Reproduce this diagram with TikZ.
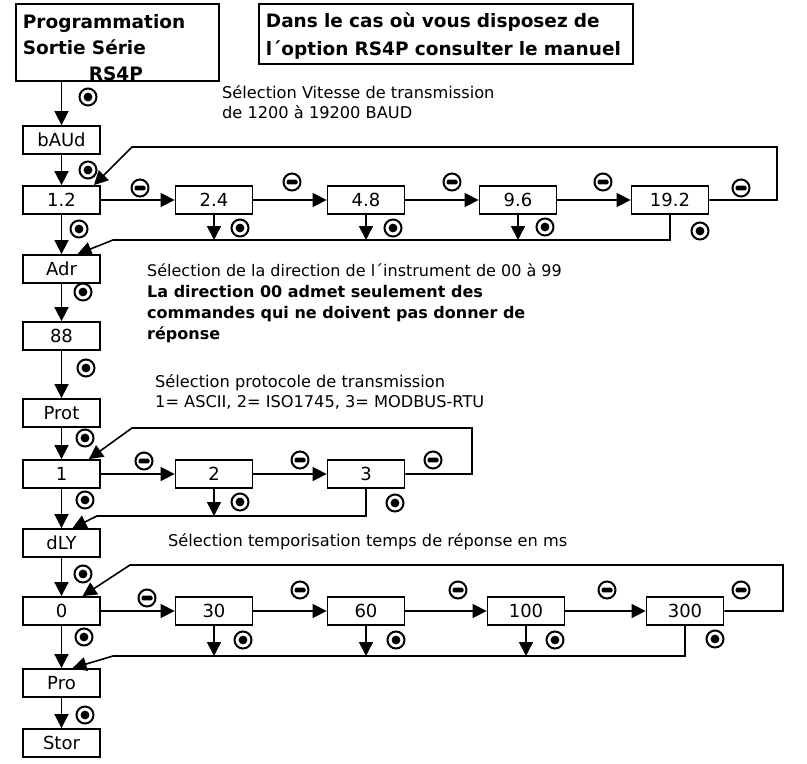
\documentclass[tikz,border=0pt]{standalone}
\usepackage{fontspec}
\setmainfont{DejaVu Sans}
\usetikzlibrary{arrows.meta}

\tikzset{
  box/.style={draw, line width=1.8pt, minimum width=77pt, minimum height=28pt, inner sep=0pt, font=\fontsize{18}{20}\selectfont},
  title/.style={draw, line width=1.8pt, align=left, anchor=north west, inner xsep=7pt, inner ysep=0pt, font=\bfseries\fontsize{18.5}{26}\selectfont},
  note/.style={align=left, inner sep=0pt, font=\fontsize{16.2}{20.5}\selectfont},
  arr/.style={line width=1.6pt, -{Triangle[length=14pt,width=14pt]}},
  okkey/.style={circle, draw, line width=2pt, minimum size=17pt, inner sep=0pt,
    path picture={\fill (path picture bounding box.center) circle (4.4pt);}},
  minuskey/.style={circle, draw, line width=2pt, minimum size=17pt, inner sep=0pt,
    path picture={\fill[rounded corners=1.4pt] ([shift={(-5.5pt,-2.4pt)}]path picture bounding box.center) rectangle ([shift={(5.5pt,2.4pt)}]path picture bounding box.center);}}
}

\begin{document}
\begin{tikzpicture}[x=1pt,y=-1pt]
\useasboundingbox (0,0) rectangle (807,764);

\node[title, minimum width=203pt, text width=189pt] (prog) at (15,3) {\rule{0pt}{25pt}Programmation\\Sortie Série\\\hspace*{66pt}\smash{RS4P}};
\node[title, minimum width=374pt, text width=360pt, font=\bfseries\fontsize{18.5}{28}\selectfont] (info) at (258,3) {\rule{0pt}{24pt}Dans le cas où vous disposez de\\l´option RS4P consulter le manuel\rule[-8pt]{0pt}{8pt}};

\node[note, anchor=west] (baudnote) at (222,102) {Sélection Vitesse de transmission\\de 1200 à 19200 BAUD};
\node[note, anchor=west, font=\fontsize{16}{21}\selectfont] (adrnote) at (147,303) {Sélection de la direction de l´instrument de 00 à 99\\\textbf{La direction 00 admet seulement des}\\\textbf{commandes qui ne doivent pas donner de}\\\textbf{réponse}};
\node[note, anchor=west] (protnote) at (155,392) {Sélection protocole de transmission\\1= ASCII, 2= ISO1745, 3= MODBUS-RTU};
\node[note, anchor=west] (dlynote) at (168,542) {Sélection temporisation temps de réponse en ms};

\node[box] (baud) at (61.5,140) {bAUd};
\node[box] (b12) at (61.5,200) {1.2};
\node[box] (b24) at (214,200) {2.4};
\node[box] (b48) at (366,200) {4.8};
\node[box] (b96) at (518,200) {9.6};
\node[box] (b192) at (670,200) {19.2};
\node[box] (adr) at (61.5,269) {Adr};
\node[box] (n88) at (61.5,336) {88};
\node[box] (prot) at (61.5,413) {Prot};
\node[box] (p1) at (61.5,474) {1};
\node[box] (p2) at (214,474) {2};
\node[box] (p3) at (366,474) {3};
\node[box] (dly) at (61.5,543) {dLY};
\node[box] (d0) at (61.5,611) {0};
\node[box] (d30) at (214,611) {30};
\node[box] (d60) at (366,611) {60};
\node[box] (d100) at (526,611) {100};
\node[box] (d300) at (685,611) {300};
\node[box] (pro) at (61.5,683) {Pro};
\node[box] (stor) at (61.5,743) {Stor};

\coordinate (baudtop) at (777,147);
\coordinate (baudbend) at (132,147);
\coordinate (baudret) at (113,240);
\coordinate (prottop) at (472,428);
\coordinate (protbend) at (132,428);
\coordinate (protret) at (97,516);
\coordinate (dlytop) at (783,565);
\coordinate (dlybend) at (130,565);
\coordinate (dlyret) at (113,656);

\draw[arr] (prog.south -| baud) -- (baud);
\draw[arr] (baud) -- (b12);
\draw[arr] (b12) -- (b24);
\draw[arr] (b24) -- (b48);
\draw[arr] (b48) -- (b96);
\draw[arr] (b96) -- (b192);
\draw[arr] (b192.east) -| (baudtop) -- (baudbend) -- ([xshift=-7pt]b12.north east);
\draw[arr] (b12) -- (adr);
\draw[arr] (b24.south) -- (b24.south |- baudret);
\draw[arr] (b48.south) -- (b48.south |- baudret);
\draw[arr] (b96.south) -- (b96.south |- baudret);
\draw[arr] (b192.south) |- (baudret) -- ([xshift=16pt]adr.north);
\draw[arr] (adr) -- (n88);
\draw[arr] (n88) -- (prot);
\draw[arr] (prot) -- (p1);
\draw[arr] (p1) -- (p2);
\draw[arr] (p2) -- (p3);
\draw[arr] (p3.east) -| (prottop) -- (protbend) -- ([xshift=-12pt]p1.north east);
\draw[arr] (p1) -- (dly);
\draw[arr] (p2.south) -- (p2.south |- protret);
\draw[arr] (p3.south) |- (protret) -- ([xshift=11pt]dly.north);
\draw[arr] (dly) -- (d0);
\draw[arr] (d0) -- (d30);
\draw[arr] (d30) -- (d60);
\draw[arr] (d60) -- (d100);
\draw[arr] (d100) -- (d300);
\draw[arr] (d300.east) -| (dlytop) -- (dlybend) -- ([xshift=21pt]d0.north);
\draw[arr] (d0) -- (pro);
\draw[arr] (d30.south) -- (d30.south |- dlyret);
\draw[arr] (d60.south) -- (d60.south |- dlyret);
\draw[arr] (d100.south) -- (d100.south |- dlyret);
\draw[arr] (d300.south) |- (dlyret) -- ([xshift=11pt]pro.north);
\draw[arr] (pro) -- (stor);

\node[okkey] (okprog) at (88,97) {};
\node[okkey] (okbaud) at (88,170) {};
\node[okkey] (ok12) at (79,229) {};
\node[okkey] (ok24) at (240,228) {};
\node[okkey] (ok48) at (393,228) {};
\node[okkey] (ok96) at (545,227) {};
\node[okkey] (ok192) at (700,231) {};
\node[minuskey] (mi12) at (140,188) {};
\node[minuskey] (mi24) at (292,182) {};
\node[minuskey] (mi48) at (452,182) {};
\node[minuskey] (mi96) at (603,182) {};
\node[minuskey] (mi192) at (741,188) {};
\node[okkey] (okadr) at (83,292) {};
\node[okkey] (ok88) at (86,368) {};
\node[okkey] (okprot) at (85,438) {};
\node[okkey] (okp1) at (85,500) {};
\node[okkey] (okp2) at (240,502) {};
\node[okkey] (okp3) at (395,503) {};
\node[minuskey] (mip1) at (144,461) {};
\node[minuskey] (mip2) at (300,460) {};
\node[minuskey] (mip3) at (433,460) {};
\node[okkey] (okdly) at (83,574) {};
\node[okkey] (okd0) at (84,637) {};
\node[okkey] (okd30) at (243,640) {};
\node[okkey] (okd60) at (396,640) {};
\node[okkey] (okd100) at (555,640) {};
\node[okkey] (okd300) at (715,639) {};
\node[minuskey] (mid0) at (147,598) {};
\node[minuskey] (mid30) at (300,590) {};
\node[minuskey] (mid60) at (458,590) {};
\node[minuskey] (mid100) at (607,590) {};
\node[minuskey] (mid300) at (741,590) {};
\node[okkey] (okpro) at (85,715) {};
\end{tikzpicture}
\end{document}
